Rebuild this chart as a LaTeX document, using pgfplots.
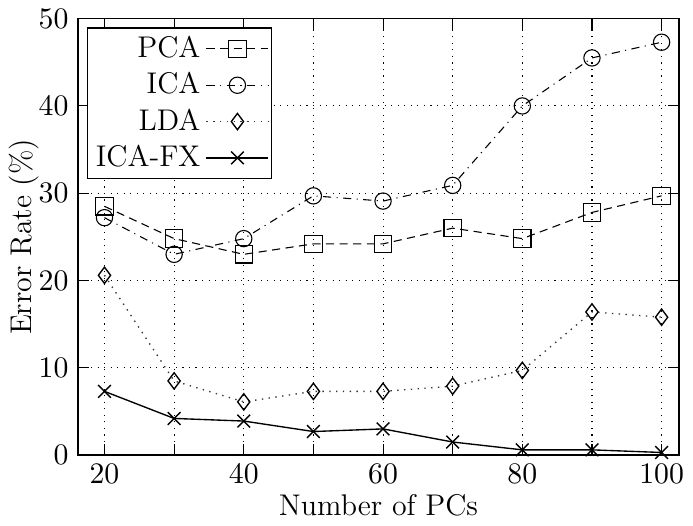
\documentclass[border=0pt]{standalone}
\usepackage{pgfplots}
\pgfplotsset{compat=1.18}
\begin{document}
\begin{tikzpicture}[font=\fontsize{11}{13}\selectfont]
\begin{axis}[
  scale only axis,
  width=221pt, height=160.5pt,
  xmin=16.2, xmax=102.5, ymin=0, ymax=50,
  xtick={20,40,60,80,100},
  minor xtick={30,50,70,90},
  ytick={0,10,20,30,40,50},
  grid=both,
  major grid style={black, dotted, line width=0.4pt},
  minor grid style={black, dotted, line width=0.4pt},
  tick align=inside,
  major tick length=4pt, minor tick length=4pt,
  axis line style={line width=0.6pt},
  tick style={black, line width=0.4pt},
  tick label style={font=\fontsize{11}{13}\selectfont},
  label style={font=\fontsize{11}{13}\selectfont},
  xlabel={Number of PCs},
  ylabel={Error Rate (\%)},
  xlabel style={yshift=3pt},
  ylabel style={yshift=-7pt},
  legend style={at={(0.015,0.98)}, anchor=north west, draw=black, line width=0.5pt,
    cells={anchor=east}, inner sep=1pt, row sep=0pt, font=\fontsize{11}{13}\selectfont},
  legend plot pos=right,
  legend image code/.code={\draw[#1] (0cm,0cm) -- (0.8cm,0cm); \draw[#1, mark repeat=2, mark phase=2] plot coordinates {(0cm,0cm)(0.4cm,0cm)(0.8cm,0cm)};},
]
\addplot[black, densely dashed, line width=0.4pt, mark=square, mark size=3.2pt, mark options={solid}] coordinates {
(20,28.5)(30,24.8)(40,23.0)(50,24.2)(60,24.2)(70,26.0)(80,24.8)(90,27.8)(100,29.7)};
\addlegendentry{PCA}
\addplot[black, dash dot, line width=0.4pt, mark=o, mark size=3pt, mark options={solid}] coordinates {
(20,27.2)(30,23.0)(40,24.8)(50,29.7)(60,29.1)(70,30.9)(80,40.0)(90,45.5)(100,47.3)};
\addlegendentry{ICA}
\addplot[black!80, dotted, line width=0.5pt, mark=diamond, mark size=3pt, mark options={solid,black}] coordinates {
(20,20.6)(30,8.5)(40,6.1)(50,7.3)(60,7.3)(70,7.9)(80,9.7)(90,16.4)(100,15.8)};
\addlegendentry{LDA}
\addplot[black, solid, line width=0.5pt, mark=x, mark size=3.3pt] coordinates {
(20,7.3)(30,4.2)(40,3.9)(50,2.7)(60,3.0)(70,1.5)(80,0.6)(90,0.6)(100,0.3)};
\addlegendentry{ICA-FX}
\end{axis}
\end{tikzpicture}
\end{document}
